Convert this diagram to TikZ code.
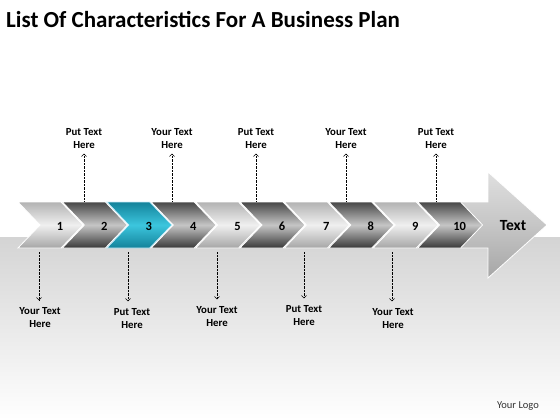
\documentclass[tikz,border=0pt]{standalone}
\usepackage{fontspec}
\setmainfont{Carlito}
\usepackage{tikz}
\usetikzlibrary{arrows.meta,positioning,calc}
\definecolor{bandgray}{HTML}{D4D4D4}
\definecolor{tealmid}{HTML}{3CC6DE}
\definecolor{tealdark}{HTML}{13829A}
\tikzset{
  lightchev/.style ={top color=gray!60,bottom color=gray!70,middle color=gray!12,draw=white,line width=0.8pt},
  darkchev/.style  ={top color=black!72,bottom color=black!78,middle color=gray!45,draw=white,line width=0.8pt},
  tealchev/.style  ={top color=tealdark,bottom color=tealdark,middle color=tealmid,draw=cyan!20,line width=0.8pt},
  bigarrow/.style  ={top color=gray!25,bottom color=gray!70,middle color=gray!45,draw=white,line width=0.8pt},
  num/.style       ={font=\fontsize{12.5}{14}\selectfont\bfseries,inner sep=0pt},
  callout/.style   ={align=center,font=\fontsize{10.8}{13}\selectfont\bfseries,inner sep=1pt},
  pointer/.style   ={densely dotted,thin,-{Straight Barb[length=2.5pt,width=5pt]}},
}

\begin{document}
\begin{tikzpicture}[x=1pt,y=-1pt]
  \useasboundingbox (0,0) rectangle (560,420);
  % grey floor
  \shade[top color=bandgray,bottom color=white] (0,237) rectangle (560,420);
  \node[anchor=base west,inner sep=0pt,font=\fontsize{23}{26}\selectfont\bfseries] (title) at (6,28)
    {List Of Characteristics For A Business Plan};
  % big arrow at the end
  \shade[bigarrow] (460,202) -- (488,202) -- (488,172) -- (547,225) -- (488,278)
    -- (488,248) -- (460,248) -- cycle;
  \node[font=\fontsize{15.5}{17}\selectfont\bfseries,inner sep=0pt] (goal) at (513,226) {Text};
  % chevrons
  \foreach \i in {1,...,10}{
     \pgfmathsetmacro{\t}{83+44.4*(\i-1)}
     \ifnum\i=3 \def\chev{tealchev}\else
       \ifodd\i \def\chev{lightchev}\else \def\chev{darkchev}\fi\fi
     \shade[\chev] (\t-65,202) -- (\t-22,202) -- (\t,225) -- (\t-22,248)
       -- (\t-65,248) -- (\t-43,225) -- cycle;
     \node[num] (n\i) at (\t-23,226) {\i};
  }
  % callouts above
  \foreach \x/\w/\name in {84/Put/u1,172/Your/u2,256/Put/u3,346/Your/u4,436/Put/u5}{
     \coordinate (\name c) at (\x,201);
     \node[callout] (\name) at (\x,138.5) {\w\ Text\\Here};
     \draw[pointer,shorten >=4pt] (\name c) -- (\name c |- \name.south);
  }
  % callouts below
  \foreach \x/\lx/\ly/\w/\name in {39/40/317.5/Your/d1,128/132/318.5/Put/d2,217/217/316.5/Your/d3,
                                   304/304/315.5/Put/d4,392/393/318.5/Your/d5}{
     \coordinate (\name c) at (\x,252);
     \node[callout] (\name) at (\lx,\ly) {\w\ Text\\Here};
     \draw[pointer,shorten >=6pt] (\name c) -- (\name c |- \name.north);
  }
  \node[font=\fontsize{10.5}{12}\selectfont,text=black!80,inner sep=0pt] (logo) at (518,406) {Your Logo};
\end{tikzpicture}
\end{document}
